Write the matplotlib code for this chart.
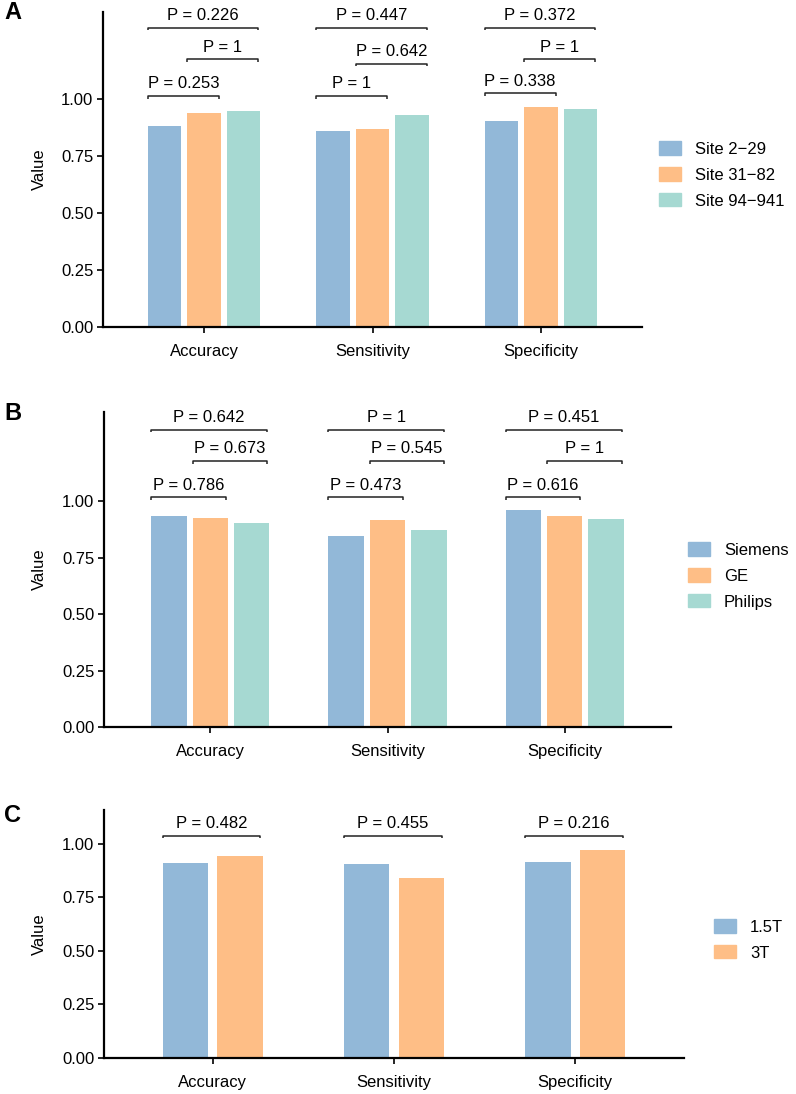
import numpy as np
import matplotlib.pyplot as plt
from matplotlib.patches import Patch

plt.rcParams['font.family'] = ['Liberation Sans', 'DejaVu Sans']
plt.rcParams['font.size'] = 12

metrics = ['Accuracy', 'Sensitivity', 'Specificity']
colors = ['#92B8D8', '#FEBE86', '#A6D9D2']

# panel A - sites
site_groups = ['Site 2\u221229', 'Site 31\u221282', 'Site 94\u2212941']
site_values = [[0.881, 0.860, 0.904],
               [0.937, 0.866, 0.963],
               [0.947, 0.929, 0.957]]
site_pvals = [['0.253', '1', '0.338'],   # group 1 vs 2
              ['1', '0.642', '1'],       # group 2 vs 3
              ['0.226', '0.447', '0.372']]  # group 1 vs 3
site_levels = [[1.013, 1.013, 1.024],
               [1.172, 1.154, 1.172],
               [1.312, 1.312, 1.312]]

# panel B - vendors
vendor_groups = ['Siemens', 'GE', 'Philips']
vendor_values = [[0.932, 0.847, 0.959],
                 [0.923, 0.917, 0.932],
                 [0.903, 0.873, 0.922]]
vendor_pvals = [['0.786', '0.473', '0.616'],
                ['0.673', '0.545', '1'],
                ['0.642', '1', '0.451']]
vendor_levels = [[1.016, 1.016, 1.016],
                 [1.177, 1.177, 1.177],
                 [1.316, 1.316, 1.316]]

# panel C - field strength
field_groups = ['1.5T', '3T']
field_values = [[0.910, 0.905, 0.916],
                [0.941, 0.838, 0.969]]
field_pvals = [['0.482', '0.455', '0.216']]
field_levels = [[1.037, 1.037, 1.037]]

comps3 = [(0, 1), (1, 2), (0, 2)]
comps2 = [(0, 1)]

W, H = 796, 1094
fig = plt.figure(figsize=(W / 100, H / 100), dpi=100)


def px_axes(left, right, top, bottom):
    return fig.add_axes([left / W, 1 - bottom / H, (right - left) / W, (bottom - top) / H])


def draw_panel(ax, groups, values, pvals, levels, comps, width, step, ytop,
               legend_x, legend_y, letter, letter_y):
    x = np.arange(1, len(metrics) + 1)
    n = len(groups)
    offsets = (np.arange(n) - (n - 1) / 2) * step
    for k in range(n):
        ax.bar(x + offsets[k], values[k], width=width, color=colors[k], label=groups[k])

    tip = 0.012
    for c, (i, j) in enumerate(comps):
        for m in range(len(metrics)):
            x0 = x[m] + offsets[i] - width / 2
            x1 = x[m] + offsets[j] + width / 2 - 0.012
            y = levels[c][m]
            ax.plot([x0, x0, x1, x1], [y - tip, y, y, y - tip], color='#222222',
                    lw=1.1, solid_capstyle='butt', clip_on=False)
            ax.annotate('P = ' + pvals[c][m], ((x0 + x1) / 2, y), xytext=(0, 5.5),
                        textcoords='offset points', ha='center', va='baseline',
                        fontsize=12)

    ax.set_xlim(0.4, 3.6)
    ax.set_ylim(0, ytop)
    ax.set_xticks(x)
    ax.set_xticklabels(metrics)
    ax.set_yticks([0, 0.25, 0.5, 0.75, 1.0])
    ax.set_yticklabels(['0.00', '0.25', '0.50', '0.75', '1.00'])
    for s in ['top', 'right']:
        ax.spines[s].set_visible(False)
    for s in ['left', 'bottom']:
        ax.spines[s].set_linewidth(1.6)
    ax.tick_params(axis='both', length=4.5, width=1.2, labelsize=12, colors='black')
    ax.tick_params(axis='x', pad=8)
    ax.tick_params(axis='y', pad=2.5)
    ax.set_ylabel('Value', fontsize=12)
    pos = ax.get_position()
    ax.yaxis.set_label_coords((47 / W - pos.x0) / pos.width, 0.5)

    handles = [Patch(color=colors[k]) for k in range(n)]
    ax.legend(handles, groups, loc='center left',
              bbox_to_anchor=(legend_x / W, 1 - legend_y / H),
              bbox_transform=fig.transFigure, frameon=False, fontsize=12,
              handlelength=1.32, handleheight=0.84, handletextpad=0.84,
              labelspacing=0.63, borderpad=0, borderaxespad=0)

    fig.text(4 / W, 1 - letter_y / H, letter, fontsize=17, fontweight='bold',
             ha='left', va='top')


ax_a = px_axes(103, 642, 12, 327)
draw_panel(ax_a, site_groups, site_values, site_pvals, site_levels, comps3,
           0.2, 0.235, 1.38, 659, 175, 'A', 1)

ax_b = px_axes(104, 671, 412, 727)
draw_panel(ax_b, vendor_groups, vendor_values, vendor_pvals, vendor_levels, comps3,
           0.2, 0.233, 1.394, 688, 576, 'B', 402)

ax_c = px_axes(104, 684, 810, 1058)
draw_panel(ax_c, field_groups, field_values, field_pvals, field_levels, comps2,
           0.25, 0.3, 1.157, 714, 940, 'C', 804)

fig.savefig('out.png', dpi=100)
